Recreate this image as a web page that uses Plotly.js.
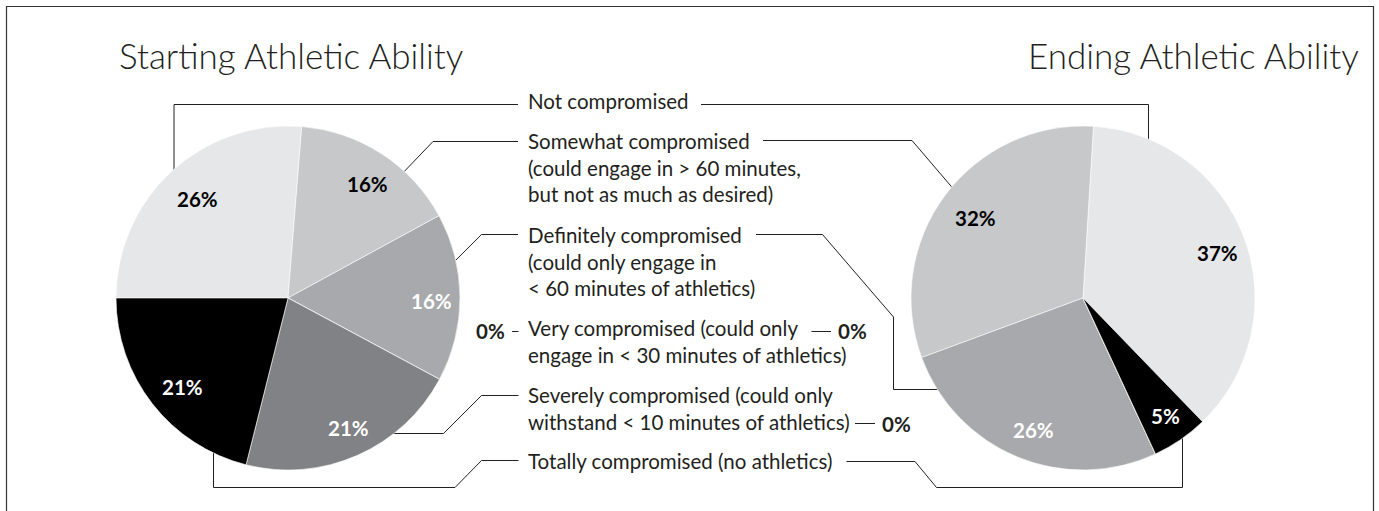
<!DOCTYPE html>
<html>
<head>
<meta charset="utf-8">
<script src="https://cdn.plot.ly/plotly-3.0.1.min.js"></script>
<style>html,body{margin:0;padding:0;background:#fff;}#chart{width:1379px;height:511px;}</style>
</head>
<body>
<div id="chart"></div>
<script>
// ---------- data ----------
const categories = ['Not compromised', 'Somewhat compromised', 'Definitely compromised',
  'Very compromised', 'Severely compromised', 'Totally compromised'];
const categoryLabels = [
  'Not compromised',
  'Somewhat compromised<br>(could engage in &gt; 60 minutes,<br>but not as much as desired)',
  'Definitely compromised<br>(could only engage in<br>&lt; 60 minutes of athletics)',
  'Very compromised (could only<br>engage in &lt; 30 minutes of athletics)',
  'Severely compromised (could only<br>withstand &lt; 10 minutes of athletics)',
  'Totally compromised (no athletics)'
];
const startingPct = [26.3, 15.8, 15.8, 0, 21.1, 21.1];
const endingPct = [36.8, 31.6, 26.3, 0, 0, 5.3];
const panelTitles = ['Starting Athletic Ability', 'Ending Athletic Ability'];

// ---------- styles ----------
const sliceColors = ['#e6e7e8', '#c7c8ca', '#a7a9ac', '#939598', '#808285', '#000000'];
const insideTextColors = ['#000000', '#000000', '#ffffff', '#ffffff', '#ffffff', '#ffffff'];
const W = 1379, H = 511;
const FONT = 'Lato, "Noto Sans", sans-serif';
const INK = '#231f20';
const px = x => x / W;
const py = y => 1 - y / H;
const pct = v => Math.round(v) + '%';

// pie geometry (pixels)
const pies = [
  {vals: startingPct, cx: 288, cy: 298, r: 172, rotation: 270, direction: 'clockwise'},
  {vals: endingPct, cx: 1083, cy: 298, r: 172, rotation: 3.5, direction: 'counterclockwise'}
];

const traces = pies.map(p => ({
  type: 'pie',
  labels: categories,
  values: p.vals,
  sort: false,
  direction: p.direction,
  rotation: p.rotation,
  domain: {x: [px(p.cx - p.r), px(p.cx + p.r)], y: [py(p.cy + p.r), py(p.cy - p.r)]},
  marker: {colors: sliceColors, line: {color: '#ffffff', width: 0.6}},
  textinfo: 'none',
  hoverinfo: 'label+percent',
  showlegend: false
}));

// slice mid angles following plotly's pie convention (clockwise from 12 o'clock)
function midAngles(p) {
  const tot = p.vals.reduce((a, b) => a + b, 0);
  const a = p.vals.map(v => v / tot * 360);
  const mids = [];
  let cum = 0;
  for (let i = 0; i < a.length; i++) {
    if (p.direction === 'clockwise') mids.push(p.rotation + cum + a[i] / 2);
    else mids.push(p.rotation + a[0] - cum - a[i] / 2);
    cum += a[i];
  }
  return mids;
}

const annotations = [];
// inside percentage labels
const LABEL_R = 0.81, LABEL_DX = 4, LABEL_DY = 3;
pies.forEach(p => {
  const mids = midAngles(p);
  p.vals.forEach((v, i) => {
    if (v <= 0) return;
    const ang = mids[i] * Math.PI / 180;
    const rr = LABEL_R * p.r;
    annotations.push({
      xref: 'paper', yref: 'paper',
      x: px(p.cx + rr * Math.sin(ang) + LABEL_DX), y: py(p.cy - rr * Math.cos(ang) + LABEL_DY),
      text: '<b>' + pct(v) + '</b>', showarrow: false,
      xanchor: 'center', yanchor: 'middle',
      font: {family: FONT, size: 20.5, color: insideTextColors[i]}
    });
  });
});

// titles
annotations.push({xref: 'paper', yref: 'paper', x: px(117), y: py(55), xanchor: 'left', yanchor: 'middle',
  text: panelTitles[0], showarrow: false, font: {family: FONT, size: 35, weight: 300, color: INK}});
annotations.push({xref: 'paper', yref: 'paper', x: px(1361), y: py(55), xanchor: 'right', yanchor: 'middle',
  text: panelTitles[1], showarrow: false, font: {family: FONT, size: 35, weight: 300, color: INK}});

// category labels (middle column)
const labelCenters = [101.3, 167.5, 261.2, 341.7, 408, 461.3];
categoryLabels.forEach((t, i) => {
  annotations.push({xref: 'paper', yref: 'paper', x: px(526), y: py(labelCenters[i]),
    xanchor: 'left', yanchor: 'middle', align: 'left', text: t, showarrow: false,
    font: {family: FONT, size: 20.5, color: INK}});
});

// zero-value labels placed beside the legend text
const zeroLabels = [
  {v: startingPct[3], x: 507, y: 331, anchor: 'right'},
  {v: endingPct[3], x: 836, y: 331, anchor: 'left'},
  {v: endingPct[4], x: 880, y: 423.5, anchor: 'left'}
];
zeroLabels.forEach(z => {
  annotations.push({xref: 'paper', yref: 'paper', x: px(z.x), y: py(z.y), xanchor: z.anchor, yanchor: 'middle',
    text: '<b>' + pct(z.v) + '</b>', showarrow: false, font: {family: FONT, size: 20.5, color: INK}});
});

// connector lines (pixel paths)
const connectors = [
  [[174, 178], [174, 104.5], [518, 104.5]],
  [[701, 104.5], [1148.5, 104.5], [1148.5, 146]],
  [[398, 178], [433, 141.5], [518, 141.5]],
  [[763, 140.5], [912, 140.5], [956, 192]],
  [[518, 234.5], [481.5, 234.5], [449, 267]],
  [[756, 234.5], [822.5, 234.5], [893.5, 317], [893.5, 389.5], [946, 389.5]],
  [[512, 331.5], [518.5, 331.5]],
  [[811.5, 331.5], [831, 331.5]],
  [[518.5, 395.5], [481.5, 395.5], [443.5, 433.5], [388, 433.5]],
  [[855, 423.5], [875, 423.5]],
  [[518.5, 460.5], [481.5, 460.5], [455, 487.5], [213.5, 487.5], [213.5, 446]],
  [[846.5, 461.5], [915, 461.5], [936.5, 487.5], [1182.5, 487.5], [1182.5, 432]]
];
const shapes = connectors.map(pts => ({
  type: 'path', xref: 'paper', yref: 'paper', layer: 'below',
  path: pts.map((p, k) => (k ? 'L' : 'M') + px(p[0]) + ',' + py(p[1])).join(' '),
  line: {color: INK, width: 1}
}));
// outer frame (open at the bottom)
shapes.push({type: 'path', xref: 'paper', yref: 'paper', layer: 'below',
  path: 'M' + px(6.5) + ',' + py(520) + ' L' + px(6.5) + ',' + py(6.5) + ' L' + px(1373.5) + ',' + py(6.5) + ' L' + px(1373.5) + ',' + py(520),
  line: {color: '#333333', width: 1.2}});

const layout = {
  width: W, height: H,
  margin: {l: 0, r: 0, t: 0, b: 0, pad: 0},
  paper_bgcolor: '#ffffff', plot_bgcolor: '#ffffff',
  showlegend: false,
  annotations: annotations,
  shapes: shapes,
  font: {family: FONT, color: INK}
};

Plotly.newPlot('chart', traces, layout, {displayModeBar: false, staticPlot: true});
</script>
</body>
</html>
